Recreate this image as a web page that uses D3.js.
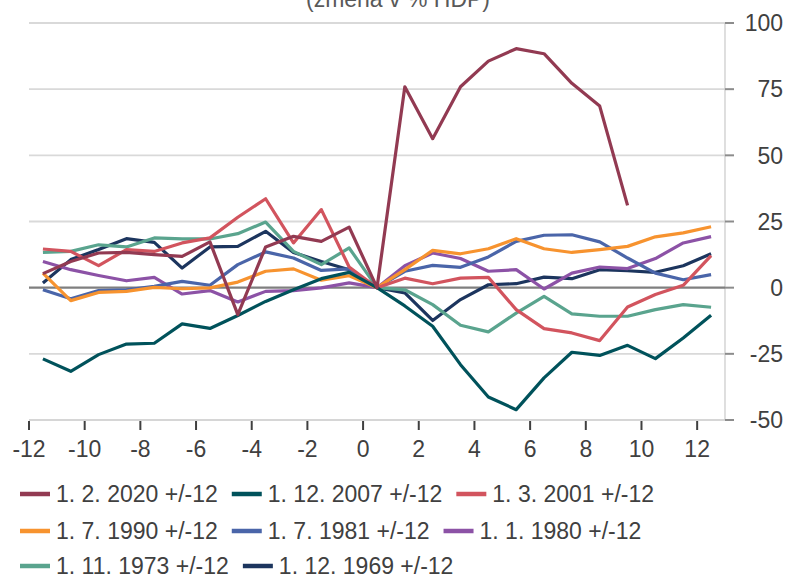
<!DOCTYPE html>
<html>
<head>
<meta charset="utf-8">
<script src="https://cdn.jsdelivr.net/npm/d3@7"></script>
<style>
  body { margin: 0; background: #fff; }
  svg { display: block; }
  text { font-family: "Liberation Sans", Arial, sans-serif; fill: #404040; }
</style>
</head>
<body>
<svg id="chart" width="786" height="578"></svg>
<script>
// ---- data ----
const months = d3.range(-12, 13); // -12 .. 12
const xTickLabels = [-12, -10, -8, -6, -4, -2, 0, 2, 4, 6, 8, 10, 12];
const yTicks = [-50, -25, 0, 25, 50, 75, 100];
const title = "(změna v % HDP)";

const seriesNames = [
  "1. 2. 2020 +/-12", "1. 12. 2007 +/-12", "1. 3. 2001 +/-12",
  "1. 7. 1990 +/-12", "1. 7. 1981 +/-12", "1. 1. 1980 +/-12",
  "1. 11. 1973 +/-12", "1. 12. 1969 +/-12"
];
const seriesColors = ["#923a52", "#00525b", "#d2545e", "#f7932f", "#4a65a9", "#8c52a6", "#5aa48e", "#1c355e"];

const s2020 = [5.3, 9.9, 13.1, 13.3, 12.5, 11.8, 17.3, -10.2, 15.4, 19.4, 17.5, 22.9, 0, 75.9, 56.3, 75.9, 85.6, 90.3, 88.4, 77.2, 68.6, 31.1, null, null, null];
const s2007 = [-26.9, -31.6, -25.3, -21.3, -21.0, -13.7, -15.4, -10.5, -5.2, -0.8, 3.4, 5.8, 0, -6.9, -14.6, -29.1, -41.3, -46.1, -34.1, -24.4, -25.6, -21.8, -26.8, -19.0, -10.4];
const s2001 = [14.6, 13.7, 8.3, 14.4, 13.7, 16.9, 18.8, 26.6, 33.6, 16.9, 29.5, 7.8, 0, 3.6, 1.5, 3.6, 3.9, -8.3, -15.5, -17.1, -20.0, -7.3, -2.6, 0.9, 12.1];
const s1990 = [5.5, -4.9, -1.8, -1.4, 0.1, -0.4, -0.1, 2.1, 6.2, 7.1, 2.8, 4.5, 0, 6.8, 14.1, 12.8, 14.7, 18.5, 14.7, 13.3, 14.4, 15.6, 19.2, 20.7, 23.0];
const s1981 = [-0.8, -4.2, -1.1, -0.8, 0.5, 2.4, 0.9, 8.7, 13.5, 11.2, 6.5, 7.1, 0, 6.2, 8.4, 7.7, 11.6, 17.5, 19.8, 20.0, 17.3, 11.2, 5.5, 3.0, 4.9];
const s1980 = [9.9, 6.8, 4.6, 2.6, 3.9, -2.4, -1.1, -5.4, -1.4, -1.1, -0.1, 1.8, 0, 8.3, 13.1, 11.0, 6.2, 6.8, -0.5, 5.5, 7.8, 7.2, 11.0, 16.9, 19.3];
const s1973 = [13.3, 13.7, 16.2, 15.4, 18.8, 18.4, 18.4, 20.4, 24.8, 13.7, 8.7, 15.0, 0, -0.8, -6.4, -14.2, -16.7, -9.6, -3.3, -9.9, -10.8, -10.8, -8.3, -6.4, -7.4];
const s1969 = [1.8, 10.6, 14.4, 18.5, 17.1, 7.4, 15.4, 15.6, 21.3, 13.3, 9.9, 6.8, 0, -2.0, -12.4, -4.5, 1.1, 1.5, 4.0, 3.4, 6.8, 6.4, 5.8, 8.3, 12.8];

const seriesValues = [s2020, s2007, s2001, s1990, s1981, s1980, s1973, s1969];

// ---- layout ----
const svg = d3.select("#chart");
const plotLeft = 29, plotRight = 725, plotTop = 23, plotBottom = 420;

const x = d3.scaleBand().domain(months).range([plotLeft, plotRight]).paddingInner(0).paddingOuter(0);
const y = d3.scaleLinear().domain([-50, 100]).range([plotBottom, plotTop]);
const cx = m => x(m) + x.bandwidth() / 2;

// title (cut at top, as in the reference)
svg.append("text").attr("x", 398).attr("y", 7).attr("text-anchor", "middle")
  .style("font-size", "23px").style("fill", "#595959").text(title);

// gridlines
svg.append("g").selectAll("line").data(yTicks.filter(v => v !== 0 && v !== -50)).join("line")
  .attr("x1", plotLeft).attr("x2", plotRight).attr("y1", d => y(d)).attr("y2", d => y(d))
  .attr("stroke", "#d9d9d9").attr("stroke-width", 1.8);

// bottom axis line
svg.append("line").attr("x1", plotLeft).attr("x2", plotRight).attr("y1", y(-50)).attr("y2", y(-50))
  .attr("stroke", "#c9c9c9").attr("stroke-width", 1.5);

// x ticks + labels
const xg = svg.append("g");
xg.selectAll("line").data(xTickLabels).join("line")
  .attr("x1", d => x(d)).attr("x2", d => x(d)).attr("y1", plotBottom + 1).attr("y2", plotBottom + 10)
  .attr("stroke", "#404040").attr("stroke-width", 2);
xg.selectAll("text").data(xTickLabels).join("text")
  .attr("x", d => x(d)).attr("y", 457).attr("text-anchor", "middle")
  .style("font-size", "23px").text(d => d);

// right axis
svg.append("line").attr("x1", plotRight).attr("x2", plotRight).attr("y1", plotTop).attr("y2", plotBottom)
  .attr("stroke", "#c9c9c9").attr("stroke-width", 1.2);
const yg = svg.append("g");
yg.selectAll("line").data(yTicks).join("line")
  .attr("x1", plotRight).attr("x2", plotRight + 9).attr("y1", d => y(d)).attr("y2", d => y(d))
  .attr("stroke", "#8c8c8c").attr("stroke-width", 2);
yg.selectAll("text").data(yTicks).join("text")
  .attr("x", 783).attr("y", d => y(d)).attr("dy", "0.36em").attr("text-anchor", "end")
  .style("font-size", "23px").text(d => d);

// zero line
svg.append("line").attr("x1", plotLeft).attr("x2", plotRight).attr("y1", y(0)).attr("y2", y(0))
  .attr("stroke", "#7f7f7f").attr("stroke-width", 2.2);

// series lines (drawn so 2020 ends on top)
const line = d3.line().defined(d => d.v !== null).x(d => cx(d.m)).y(d => y(d.v));
const order = d3.range(seriesNames.length).reverse();
svg.append("g").selectAll("path").data(order).join("path")
  .attr("d", i => line(months.map((m, k) => ({ m, v: seriesValues[i][k] }))))
  .attr("fill", "none").attr("stroke", i => seriesColors[i]).attr("stroke-width", 3.2)
  .attr("stroke-linejoin", "round");

// legend
const rows = [[0, 1, 2], [3, 4, 5], [6, 7]];
const rowY = [494, 531, 566];
const lg = svg.append("g");
rows.forEach((row, r) => {
  let xpos = 20;
  row.forEach(i => {
    const g = lg.append("g").attr("transform", `translate(${xpos},${rowY[r]})`);
    g.append("line").attr("x1", 0).attr("x2", 30).attr("y1", 0).attr("y2", 0)
      .attr("stroke", seriesColors[i]).attr("stroke-width", 4.5);
    const t = g.append("text").attr("x", 36).attr("y", 0).attr("dy", "0.36em")
      .style("font-size", "23px").text(seriesNames[i]);
    xpos += 36 + t.node().getComputedTextLength() + 14;
  });
});
</script>
</body>
</html>
